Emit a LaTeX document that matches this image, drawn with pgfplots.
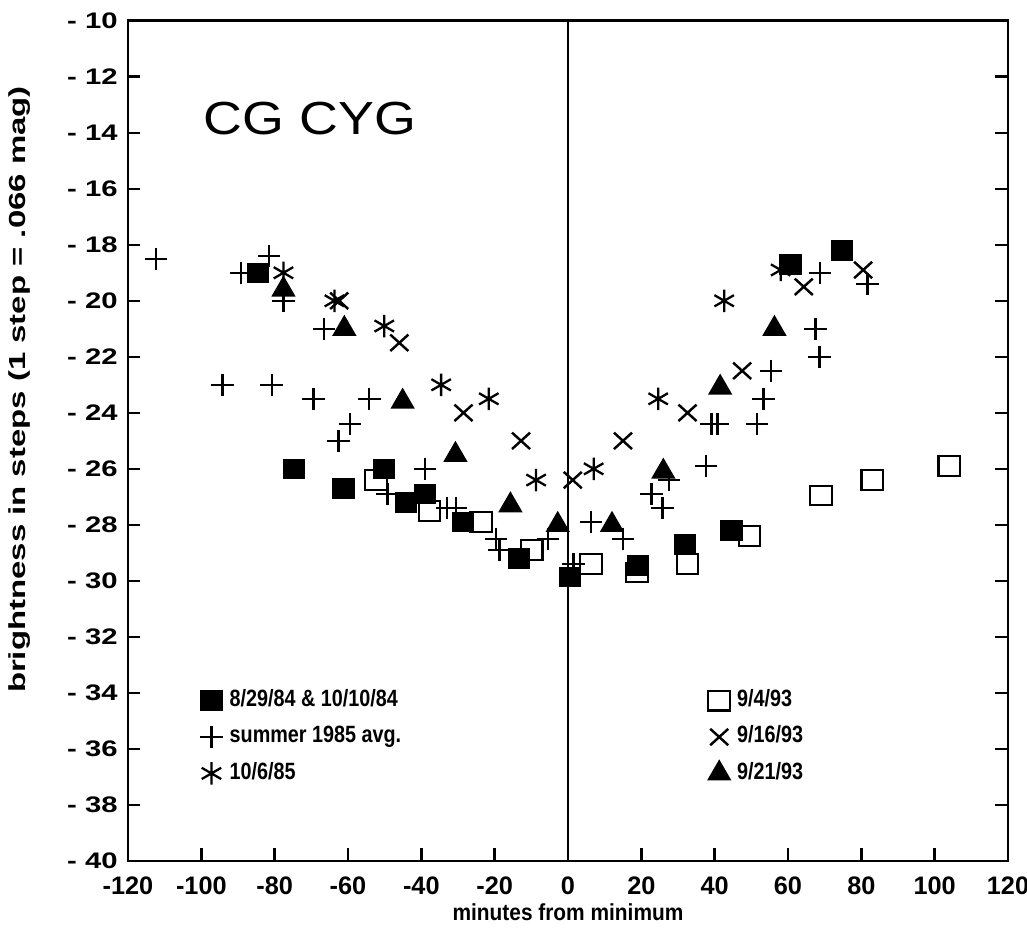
\documentclass[border=0pt]{standalone}
\usepackage{fontspec}
\setmainfont{Liberation Sans}
\usepackage{pgfplots}
\pgfplotsset{compat=1.18}

\begin{document}
\begin{tikzpicture}
\begin{axis}[
    scale only axis, width=88mm, height=84.03mm,
    xmin=-120, xmax=120, ymin=-40, ymax=-10,
    xtick={-120,-100,...,120},
    xticklabels={-120,-100,-80,-60,-40,-20,0,20,40,60,80,100,120},
    ytick={-40,-38,...,-10},
    yticklabels={- 40,- 38,- 36,- 34,- 32,- 30,- 28,- 26,- 24,- 22,- 20,- 18,- 16,- 14,- 12,- 10},
    tick align=inside, major tick length=1.25mm,
    xtick pos=bottom, ytick pos=both,
    axis line style={line width=0.85pt},
    every tick/.style={black, line width=0.7pt},
    xticklabel style={yshift=-0.3mm, font=\bfseries\fontsize{7.2}{8}\selectfont},
    yticklabel style={xshift=0.2mm, font=\bfseries\fontsize{6.4}{8}\selectfont\addfontfeatures{FakeStretch=1.3}},
    xlabel={minutes from minimum},
    ylabel={brightness in steps (1 step = .066 mag)},
    every axis x label/.style={at={(axis description cs:0.5,0)}, yshift=-5.1mm, anchor=center,
        font=\bfseries\fontsize{6.6}{8}\selectfont\addfontfeatures{FakeStretch=0.9}},
    every axis y label/.style={at={(axis description cs:0,0.561)}, xshift=-10.8mm, rotate=90, anchor=center,
        font=\bfseries\fontsize{6.6}{8}\selectfont\addfontfeatures{FakeStretch=1.42}},
    legend columns=2,
    legend cell align=left,
    legend style={at={(axis cs:-100.5,-33.6)}, anchor=north west, draw=none, fill=none,
        inner sep=0pt, row sep=0mm,
        font=\bfseries\fontsize{6.7}{8}\selectfont\addfontfeatures{FakeStretch=0.84},
        /tikz/column 2/.style={column sep=30mm}},
    legend image code/.code={\draw[mark repeat=2,mark phase=2,#1] plot coordinates {(0cm,0cm)(0.07cm,0cm)(0.14cm,0cm)};},
]
\addplot[only marks, mark=square*, mark size=2.7pt, black, mark options={xscale=1.1}] coordinates {
(-84.5,-19) (-74.7,-26) (-61.2,-26.7) (-50.1,-26) (-44.2,-27.2) (-39,-26.9)
(-28.7,-27.9) (-13.3,-29.2) (0.6,-29.85) (19,-29.45) (31.9,-28.7) (44.6,-28.2)
(60.7,-18.7) (74.7,-18.2)};
\addplot[only marks, mark=square, mark size=2.8pt, black, line width=0.6pt, mark options={xscale=1.1}] coordinates {
(-52.4,-26.4) (-37.8,-27.5) (-23.7,-27.9) (-9.9,-28.9) (6.3,-29.4) (18.8,-29.7)
(32.6,-29.4) (49.5,-28.4) (69,-26.95) (83,-26.4) (104,-25.9)};
\addplot[only marks, mark=+, mark size=3.2pt, black, line width=0.7pt] coordinates {
(-112.4,-18.5) (-89.2,-19) (-81.5,-18.4) (-77.6,-20) (-66.5,-21) (-94.2,-23)
(-80.8,-23) (-69.4,-23.5) (-54.2,-23.5) (-59.5,-24.4) (-62.6,-25) (-39,-26)
(-49.2,-26.9) (-33,-27.4) (-30.5,-27.4) (-19.6,-28.5) (-18.7,-28.9) (-5.5,-28.5)
(1.5,-29.4) (6.3,-27.9) (15,-28.5) (22.8,-26.9) (25.8,-27.4) (27.6,-26.4)
(37.6,-25.9) (39.2,-24.4) (40.8,-24.4) (51.5,-24.4) (53.3,-23.5) (55.4,-22.5)
(67.5,-21) (68.6,-22) (68.7,-19) (81.7,-19.4)};
\addplot[only marks, mark=x, mark size=3.3pt, black, line width=0.7pt, mark options={xscale=1.1}] coordinates {
(-62.4,-20) (-46,-21.5) (-28.5,-24) (-12.8,-25) (1.3,-26.4) (15,-25)
(32.6,-24) (47.5,-22.5) (64.3,-19.5) (80.5,-18.9)};
\addplot[only marks, mark=asterisk, mark size=3.2pt, black, line width=0.65pt] coordinates {
(-77.6,-19) (-63.7,-20) (-50.1,-20.9) (-34.6,-23) (-21.6,-23.5) (-8.7,-26.4)
(7,-26) (24.6,-23.5) (42.6,-20) (58,-18.9)};
\addplot[only marks, mark=triangle*, mark size=3.6pt, black] coordinates {
(-77.6,-19.6) (-61,-21) (-45.1,-23.6) (-30.7,-25.5) (-15.7,-27.3) (-2.8,-28)
(12,-28) (26,-26.1) (41.5,-23.1) (56.3,-21)};
\addplot[black, line width=0.55pt, forget plot] coordinates {(0,-40) (0,-10)};
\legend{8/29/84 \& 10/10/84, 9/4/93, summer 1985 avg., 9/16/93, 10/6/85, 9/21/93}
\node[anchor=west, inner sep=0pt, font=\fontsize{13.2}{15}\selectfont\addfontfeatures{FakeStretch=1.16}] at (axis cs:-99.5,-13.5) {CG CYG};
\end{axis}
\pgfresetboundingbox
\path (-12.8mm,-7.7mm) rectangle (89.9mm,86.1mm);
\end{tikzpicture}
\end{document}
